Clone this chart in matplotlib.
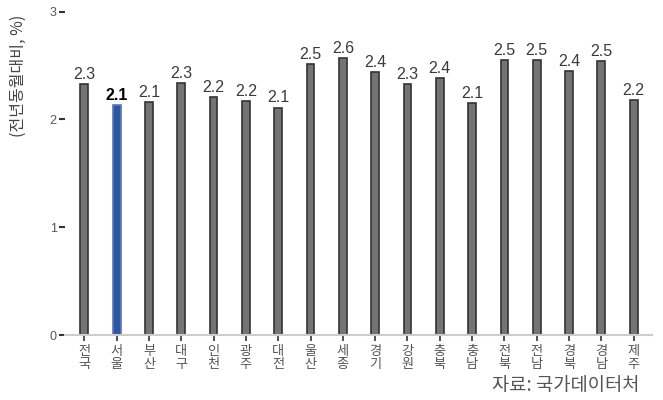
import numpy as np
import matplotlib
matplotlib.use('Agg')
import matplotlib.pyplot as plt

plt.rcParams['font.family'] = ['Noto Sans CJK KR', 'DejaVu Sans']

# regions and year-on-year change (%)
regions = ['전국', '서울', '부산', '대구', '인천', '광주', '대전', '울산', '세종',
           '경기', '강원', '충북', '충남', '전북', '전남', '경북', '경남', '제주']
values = [2.33, 2.13, 2.16, 2.34, 2.21, 2.17, 2.11, 2.51, 2.57,
          2.44, 2.33, 2.38, 2.15, 2.55, 2.55, 2.45, 2.54, 2.18]
labels = ['2.3', '2.1', '2.1', '2.3', '2.2', '2.2', '2.1', '2.5', '2.6',
          '2.4', '2.3', '2.4', '2.1', '2.5', '2.5', '2.4', '2.5', '2.2']
highlight = '서울'

fig = plt.figure(figsize=(6.63, 4.0), dpi=100)
ax = fig.add_axes([0.098, 0.1625, 0.885, 0.822])

x = np.arange(len(regions))
fills = ['#2f56a0' if r == highlight else '#747474' for r in regions]
edges = ['#5a78b4' if r == highlight else '#333333' for r in regions]
ax.bar(x, values, width=0.24, color=fills, edgecolor=edges, linewidth=1.2, zorder=2)

for xi, v, lab, r in zip(x, values, labels, regions):
    ax.text(xi, v + 0.02, lab, ha='center', va='bottom', fontsize=11.5,
            family=['Liberation Sans', 'DejaVu Sans'],
            color='#000000' if r == highlight else '#3a3a3a',
            fontweight='bold' if r == highlight else 'normal')

ax.set_xlim(-0.6, 17.56)
ax.set_ylim(0, 3.05)
ax.set_yticks([0, 1, 2, 3])
ax.set_yticklabels(['0', '1', '2', '3'], family=['Liberation Sans', 'DejaVu Sans'])
ax.set_xticks(x)
ax.set_xticklabels(['\n'.join(r) for r in regions], linespacing=0.95)

for s in ['top', 'right', 'left']:
    ax.spines[s].set_visible(False)
ax.spines['bottom'].set_color('#cccccc')
ax.spines['bottom'].set_linewidth(1.5)
ax.tick_params(axis='y', length=4, width=1.5, color='#333333', labelsize=9,
               labelcolor='#555555', pad=2)
ax.tick_params(axis='x', length=4, width=1.2, color='#333333', labelsize=9.5,
               labelcolor='#555555', pad=3.5)

fig.text(0.028, 0.81, '(전년동월대비, %)', rotation=90, ha='center', va='center',
         fontsize=11.5, color='#444444')
fig.text(0.965, 0.035, '자료: 국가데이터처', ha='right', va='center',
         fontsize=13.5, color='#555555')

fig.savefig('out.png', dpi=100)
